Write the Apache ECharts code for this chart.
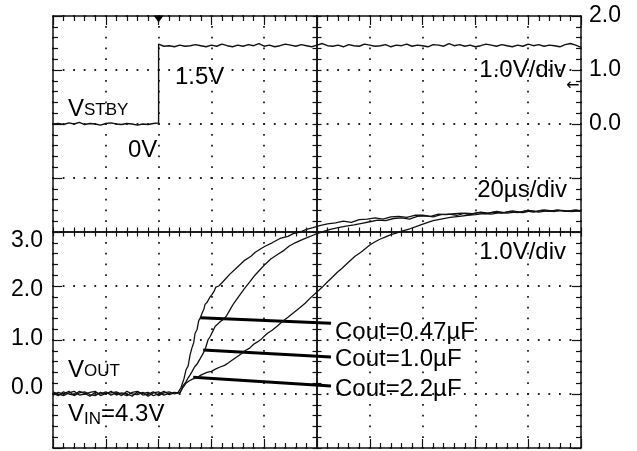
<!DOCTYPE html>
<html><head><meta charset="utf-8">
<script src="https://cdn.jsdelivr.net/npm/echarts@6/dist/echarts.min.js"></script>
<style>html,body{margin:0;padding:0;background:#fff}#c{width:637px;height:451px}</style>
</head><body><div id="c"></div>
<script>
// ---------- data (time in µs, voltage in V) ----------
const sampleStepUs = 2;
const stepTimeUs = 40;
const vstbyLow = [
  0.00,0.01,-0.01,0.02,0.00,0.03,-0.01,0.01,0.00,-0.02,
  0.01,0.02,0.00,-0.01,0.01,0.00,-0.02,0.00,-0.01,0.01,
  0.02];
const vstbyHigh = [
  1.48,1.44,1.45,1.43,1.46,1.44,1.45,1.47,1.45,1.43,
  1.46,1.44,1.48,1.45,1.43,1.46,1.44,1.47,1.45,1.49,
  1.44,1.46,1.43,1.45,1.48,1.46,1.44,1.47,1.45,1.43,
  1.46,1.49,1.45,1.44,1.46,1.43,1.47,1.45,1.44,1.48,
  1.46,1.44,1.45,1.47,1.43,1.46,1.45,1.48,1.44,1.46,
  1.45,1.43,1.47,1.46,1.44,1.49,1.45,1.47,1.44,1.46,
  1.43,1.45,1.48,1.46,1.44,1.47,1.45,1.43,1.46,1.44,
  1.48,1.45,1.47,1.44,1.46,1.45,1.43,1.47,1.49,1.46,
  1.42];
const voutBase047 = [
  0.02,-0.03,0.04,0.00,-0.02,0.05,0.01,-0.04,0.03,0.00,
  0.04,-0.02,0.02,-0.03,0.05,0.00,-0.01,0.03,-0.04,0.02,
  0.04,-0.02,0.01,0.03];
const voutBase10 = [
  -0.02,0.03,0.00,0.05,-0.03,0.02,0.04,-0.01,-0.03,0.03,
  0.00,0.05,-0.02,0.02,0.00,-0.04,0.04,0.01,0.03,-0.03,
  0.00,0.05,-0.01,0.02];
const voutBase22 = [
  0.04,0.00,-0.03,0.02,0.05,-0.02,0.00,0.03,0.05,-0.03,
  0.01,0.02,0.04,0.00,-0.03,0.03,0.05,-0.02,0.00,0.04,
  -0.03,0.02,0.04,0.00];
const voutRise047 = [
  [47.3,0.02],[48.5,0.12],[49.6,0.28],[50.4,0.45],[51.2,0.52],[51.9,0.72],[52.6,0.85],[53.3,0.95],
  [53.8,1.12],[54.6,1.20],[55.2,1.36],[55.7,1.40],[56.5,1.50],[57.2,1.58],[57.6,1.66],[58.4,1.70],
  [59.5,1.80],[60.2,1.84],[61.0,1.90],[61.7,1.98],[62.8,2.00],[64.0,2.06],[65.5,2.14],[67.0,2.22],
  [68.8,2.30],[70.5,2.38],[72.7,2.48],[75.0,2.55],[76.5,2.62],[78.4,2.68],[80.5,2.74],[83.0,2.80],
  [86.0,2.88],[89.0,2.92],[91.0,2.97],[93.6,3.00],[96.0,3.05],[98.5,3.08],[101,3.12],[104,3.15],
  [107,3.17],[110,3.20],[113,3.18],[116,3.23],[119,3.24],[122,3.26],[125,3.24],[128,3.28],
  [131,3.29],[134,3.27],[137,3.31],[140,3.31],[143,3.29],[146,3.33],[149,3.32],[152,3.34],
  [155,3.35],[158,3.32],[161,3.36],[164,3.34],[167,3.37],[170,3.35],[173,3.38],[176,3.36],
  [179,3.39],[182,3.37],[185,3.40],[188,3.38],[191,3.41],[194,3.38],[197,3.40],[200,3.38]];
const voutRise10 = [
  [48.1,0.02],[48.5,0.06],[49.2,0.15],[50.3,0.22],[51.2,0.30],[52.0,0.36],[52.7,0.42],[53.6,0.50],
  [54.5,0.55],[55.7,0.65],[56.5,0.72],[57.6,0.82],[58.7,1.00],[59.5,1.06],[60.4,1.15],[61.4,1.25],
  [62.5,1.30],[63.6,1.35],[64.5,1.38],[65.5,1.43],[66.6,1.52],[67.5,1.60],[68.5,1.68],[69.7,1.76],
  [71.0,1.85],[72.5,1.95],[74.6,2.08],[76.5,2.20],[78.4,2.30],[80.3,2.40],[82.5,2.50],[84.9,2.58],
  [87.5,2.66],[89.5,2.74],[91.7,2.80],[94.0,2.85],[96.5,2.90],[98.5,2.94],[100,2.97],[102.5,3.01],
  [105,3.05],[108,3.08],[111,3.11],[114,3.13],[117,3.16],[120,3.19],[123,3.22],[126,3.21],
  [129,3.25],[132,3.26],[135,3.24],[138,3.29],[141,3.30],[144,3.28],[147,3.32],[150,3.33],
  [153,3.31],[156,3.35],[159,3.34],[162,3.37],[165,3.35],[168,3.38],[171,3.36],[174,3.39],
  [177,3.37],[180,3.40],[183,3.38],[186,3.41],[189,3.39],[192,3.40],[195,3.38],[198,3.41],[200,3.39]];
const voutRise22 = [
  [48.1,0.03],[49.2,0.12],[50.4,0.20],[51.5,0.24],[53.0,0.28],[54.5,0.30],[56.0,0.35],[58.3,0.40],
  [60.0,0.42],[61.5,0.46],[63.3,0.50],[65.0,0.53],[66.5,0.58],[68.2,0.64],[70.0,0.70],[71.5,0.75],
  [72.7,0.80],[74.5,0.85],[76.0,0.92],[77.3,0.96],[79.0,1.02],[80.2,1.08],[81.4,1.13],[83.0,1.18],
  [85.0,1.26],[87.1,1.35],[89.0,1.42],[91.0,1.50],[93.6,1.60],[95.5,1.68],[97.5,1.78],[100,1.89],
  [102,1.98],[104,2.08],[106,2.17],[107.6,2.25],[109.5,2.33],[111.5,2.42],[114.4,2.55],[116.5,2.62],
  [118.5,2.70],[120,2.76],[122,2.82],[124,2.87],[126,2.91],[128,2.95],[130,2.98],[132.5,3.02],
  [135.2,3.06],[137.5,3.10],[140.9,3.16],[144,3.21],[147,3.24],[150.4,3.27],[154,3.29],[157,3.31],
  [160,3.32],[163,3.34],[166,3.33],[169.3,3.36],[172,3.35],[175,3.37],[178,3.36],[181,3.39],
  [184,3.37],[187,3.39],[190,3.38],[193,3.40],[196,3.38],[200,3.39]];
const pointerLines = [[55.7,1.41,105.3,1.31],[56.9,0.815,105.3,0.685],[53.1,0.31,105.3,0.15]];
const capLabels = ['Cout=0.47µF','Cout=1.0µF','Cout=2.2µF'];
const leftTickLabels = [0,1,2,3];
const rightTickLabels = [0,1,2];

// ---------- build ----------
const FONT = 'Liberation Sans';
const ink = '#000';
const withTime = (arr, t0) => arr.map((v, i) => [t0 + i * sampleStepUs, v]);
const vstbyData = withTime(vstbyLow, 0).concat(withTime(vstbyHigh, stepTimeUs));
const c047 = withTime(voutBase047, 0).concat(voutRise047);
const c10 = withTime(voutBase10, 0).concat(voutRise10);
const c22 = withTime(voutBase22, 0).concat(voutRise22);

function frameAxis(o, inside, len, minorLen) {
  return Object.assign({
    type: 'value',
    axisLine: {show: true, onZero: false, lineStyle: {color: '#111', width: 1.5}},
    axisTick: {show: true, inside: inside, length: len, lineStyle: {color: '#111', width: 1.2}},
    minorTick: {show: true, splitNumber: 5, length: minorLen, lineStyle: {color: '#111', width: 1.2}},
    axisLabel: {show: false},
    splitLine: {show: false}
  }, o);
}
const dotV = {show: true, lineStyle: {color: '#222', width: 1.8, type: [1.8, 9.0], dashOffset: 0.9}};
const dotH = {show: true, lineStyle: {color: '#222', width: 1.8, type: [1.8, 8.76], dashOffset: 0.9}};
const lblStyle = {show: true, fontFamily: FONT, fontSize: 23, color: ink, formatter: v => Number(v).toFixed(1)};

const xAxes = [
  frameAxis({min: 0, max: 200, interval: 20, position: 'bottom', splitLine: dotV}, true, 9, 5),
  frameAxis({min: 0, max: 200, interval: 20, position: 'top'}, true, 9, 5),
  frameAxis({min: 0, max: 200, interval: 20, position: 'bottom', offset: -216}, false, 4.5, 4.5),
  frameAxis({min: 0, max: 200, interval: 20, position: 'top', offset: -216}, false, 4.5, 4.5)
];
const yAxes = [
  frameAxis({min: -1, max: 7, interval: 1, position: 'left', splitLine: dotH}, true, 9, 5),
  frameAxis({min: -6, max: 2, interval: 1, position: 'right',
    axisLabel: Object.assign({customValues: rightTickLabels, margin: 8}, lblStyle)}, true, 9, 5),
  {type: 'value', min: -1.24, max: 7.61, position: 'left',
    axisLine: {show: false, onZero: false}, axisTick: {show: false}, splitLine: {show: false},
    axisLabel: Object.assign({customValues: leftTickLabels, margin: 10}, lblStyle)},
  frameAxis({min: -1, max: 7, interval: 1, position: 'left', offset: -264}, false, 4.5, 4.5),
  frameAxis({min: -1, max: 7, interval: 1, position: 'right', offset: -264}, false, 4.5, 4.5)
];

function trace(name, data, yIdx, width, extra) {
  return Object.assign({
    type: 'line', name: name, data: data, xAxisIndex: 0, yAxisIndex: yIdx,
    showSymbol: false, symbol: 'none', silent: true,
    lineStyle: {color: '#111', width: width}, emphasis: {disabled: true}, z: 5
  }, extra || {});
}

function txt(text, x, y, align, size, rich) {
  const st = {text: text, x: x, y: y, align: align, textAlign: align,
    verticalAlign: 'middle', textVerticalAlign: 'middle',
    font: size + 'px "' + FONT + '"', fontSize: size, fontFamily: FONT, fill: ink};
  if (rich) st.rich = rich;
  return {type: 'text', silent: true, z: 10, style: st};
}
const big = {fontSize: 24, fontFamily: FONT, fill: ink, verticalAlign: 'top'};
const sub = pad => ({fontSize: 17, fontFamily: FONT, fill: ink, verticalAlign: 'top', padding: [pad, 0, 0, 0]});

const graphics = [
  txt('1.5V', 175, 77, 'left', 24),
  txt('{v|V}{s|STBY}', 68, 109, 'left', 24, {v: big, s: sub(5)}),
  txt('0V', 128, 150, 'left', 24),
  txt('1.0V/div', 566, 70, 'right', 24),
  txt('20µs/div', 567, 190, 'right', 24),
  txt('1.0V/div', 566, 252, 'right', 24),
  txt('{v|V}{s|OUT}', 68, 370, 'left', 24, {v: big, s: sub(5)}),
  txt('{v|V}{s|IN}{v|=4.3V}', 68, 415, 'left', 24, {v: big, s: sub(8)}),
  txt(capLabels[0], 335, 332, 'left', 24),
  txt(capLabels[1], 335, 359, 'left', 24),
  txt(capLabels[2], 335, 389, 'left', 24),
  {type: 'text', silent: true, z: 10, style: {text: '←', x: 566, y: 86, align: 'left', textAlign: 'left',
    verticalAlign: 'middle', textVerticalAlign: 'middle', font: '16px "DejaVu Sans"', fill: ink}}
];

const chart = echarts.init(document.getElementById('c'));
chart.setOption({
  animation: false,
  grid: {left: 53, right: 56, top: 16, bottom: 3},
  xAxis: xAxes,
  yAxis: yAxes,
  series: [
    trace('VSTBY', vstbyData, 1, 1.4, {
      markPoint: {silent: true, symbol: 'triangle', symbolSize: [10, 7], symbolRotate: 180, symbolOffset: [0, 3],
        itemStyle: {color: ink}, label: {show: false}, data: [{coord: [stepTimeUs, 2]}]}
    }),
    trace(capLabels[0], c047, 0, 1.3, {
      markLine: {silent: true, symbol: ['none', 'none'], label: {show: false}, emphasis: {disabled: true},
        lineStyle: {color: ink, width: 3, type: 'solid'},
        data: pointerLines.map(p => [{coord: [p[0], p[1]]}, {coord: [p[2], p[3]]}])}
    }),
    trace(capLabels[1], c10, 0, 1.3),
    trace(capLabels[2], c22, 0, 1.3)
  ],
  graphic: graphics
});
</script>
</body></html>
